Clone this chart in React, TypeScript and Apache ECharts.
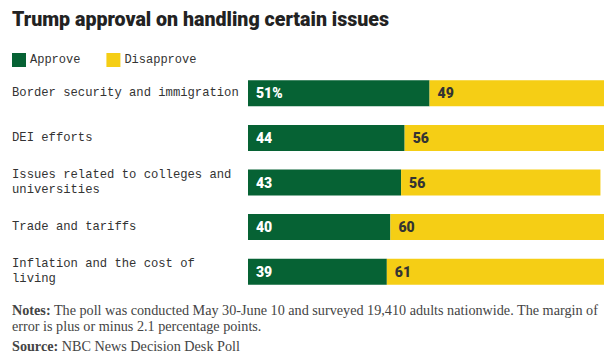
import React, { useEffect, useRef } from "react";
import * as echarts from "echarts";

const categories = [
  "Border security and immigration",
  "DEI efforts",
  "Issues related to colleges and universities",
  "Trade and tariffs",
  "Inflation and the cost of living",
];
const approve = [51, 44, 43, 40, 39];
const disapprove = [49, 56, 56, 60, 61];

const GREEN = "#066234";
const YELLOW = "#F5CE15";

export default function App() {
  const ref = useRef<HTMLDivElement>(null);
  useEffect(() => {
    const chart = echarts.init(ref.current!, null, { renderer: "svg" });
    chart.setOption({
      animation: false,
      title: {
        text: "Trump approval on handling certain issues",
        left: 7,
        top: 4,
        textStyle: {
          fontFamily: "Roboto",
          fontWeight: 900,
          fontSize: 19.6,
          color: "#222",
        },
      },
      legend: {
        left: 12,
        top: 53,
        padding: 0,
        icon: "rect",
        itemWidth: 14,
        itemHeight: 14,
        itemGap: 26,
        textStyle: {
          fontFamily: "Liberation Mono",
          fontSize: 12,
          color: "#333",
          padding: [0, 0, 0, -1],
        },
        data: ["Approve", "Disapprove"],
      },
      grid: { left: 248, right: 12, top: 71, bottom: 67, containLabel: false },
      xAxis: { type: "value", min: 0, max: 100, show: false },
      yAxis: {
        type: "category",
        inverse: true,
        data: categories,
        axisLine: { show: false },
        axisTick: { show: false },
        axisLabel: {
          align: "left",
          margin: 236,
          width: 228,
          overflow: "break",
          lineHeight: 15,
          fontFamily: "Liberation Mono",
          fontSize: 12.2,
          color: "#333",
          padding: [6, 0, 0, 0],
          backgroundColor: "transparent",
        },
      },
      series: [
        {
          name: "Approve",
          type: "bar",
          stack: "a",
          data: approve,
          barWidth: 26,
          itemStyle: { color: GREEN },
          label: {
            show: true,
            position: "insideLeft",
            distance: 8,
            color: "#fff",
            fontFamily: "Roboto",
            fontWeight: 900,
            fontSize: 14,
            formatter: (p: any) => (p.dataIndex === 0 ? p.value + "%" : String(p.value)),
          },
        },
        {
          name: "Disapprove",
          type: "bar",
          stack: "a",
          data: disapprove,
          barWidth: 26,
          itemStyle: { color: YELLOW },
          label: {
            show: true,
            position: "insideLeft",
            distance: 8,
            color: "#333",
            fontFamily: "Roboto",
            fontWeight: 900,
            fontSize: 14,
          },
        },
      ],
      graphic: [
        {
          type: "text",
          left: 12,
          top: 302,
          style: {
            text:
              "{b|Notes:} The poll was conducted May 30-June 10 and surveyed 19,410 adults nationwide. The margin of\nerror is plus or minus 2.1 percentage points.",
            fontFamily: "Liberation Serif",
            fontSize: 14.2,
            lineHeight: 16,
            fill: "#444",
            rich: {
              b: { fontWeight: 700, fontFamily: "Liberation Serif", fontSize: 14.2, fill: "#444" },
            },
          },
        },
        {
          type: "text",
          left: 12,
          top: 338,
          style: {
            text: "{b|Source:} NBC News Decision Desk Poll",
            fontFamily: "Liberation Serif",
            fontSize: 14.2,
            lineHeight: 16,
            fill: "#444",
            rich: {
              b: { fontWeight: 700, fontFamily: "Liberation Serif", fontSize: 14.2, fill: "#444" },
            },
          },
        },
      ],
    });
    return () => chart.dispose();
  }, []);
  return <div ref={ref} style={{ width: 616, height: 361, position: "absolute", left: 0, top: 0 }} />;
}
